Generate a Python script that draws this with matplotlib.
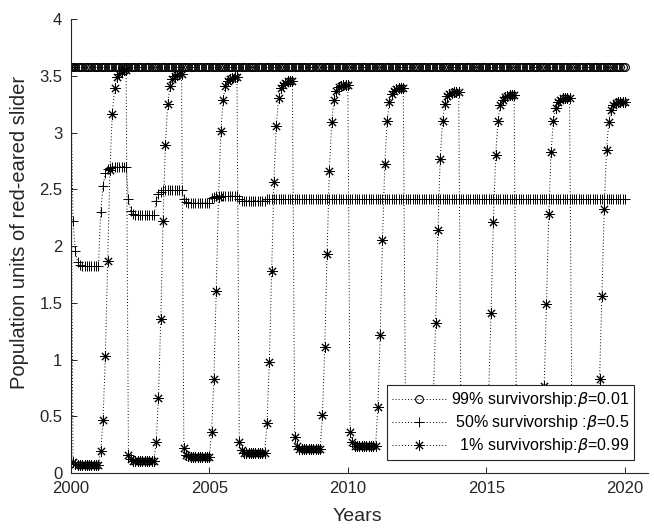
import numpy as np
import matplotlib
matplotlib.use("Agg")
import matplotlib.pyplot as plt

plt.rcParams['font.family'] = ['Liberation Sans', 'DejaVu Sans']

# monthly time grid, 2000 .. 2020
years = 2000 + np.arange(241) / 12.0
start_value = 3.58

# beta = 0.01 (99% survivorship) stays flat
pop_99 = [3.58] * 241

# beta = 0.5 (50% survivorship), one row per year (months 1..12)
pop_50_rows = [
    [2.22, 1.96, 1.86, 1.83, 1.82, 1.82, 1.82, 1.82, 1.82, 1.82, 1.82, 1.82],
    [2.30, 2.53, 2.64, 2.68, 2.69, 2.70, 2.70, 2.70, 2.70, 2.70, 2.70, 2.70],
    [2.41, 2.31, 2.28, 2.27, 2.27, 2.27, 2.27, 2.27, 2.27, 2.27, 2.27, 2.27],
    [2.40, 2.46, 2.48, 2.49, 2.49, 2.49, 2.49, 2.49, 2.49, 2.49, 2.49, 2.49],
    [2.41, 2.39, 2.38, 2.38, 2.38, 2.38, 2.38, 2.38, 2.38, 2.38, 2.38, 2.38],
    [2.42, 2.43, 2.44, 2.44, 2.44, 2.44, 2.44, 2.44, 2.44, 2.44, 2.44, 2.44],
    [2.41, 2.40, 2.40, 2.40, 2.40, 2.40, 2.40, 2.40, 2.40, 2.40, 2.40, 2.40],
    [2.41, 2.41, 2.41, 2.41, 2.41, 2.41, 2.41, 2.41, 2.41, 2.41, 2.41, 2.41],
    [2.41, 2.41, 2.41, 2.41, 2.41, 2.41, 2.41, 2.41, 2.41, 2.41, 2.41, 2.41],
    [2.41, 2.41, 2.41, 2.41, 2.41, 2.41, 2.41, 2.41, 2.41, 2.41, 2.41, 2.41],
    [2.41, 2.41, 2.41, 2.41, 2.41, 2.41, 2.41, 2.41, 2.41, 2.41, 2.41, 2.41],
    [2.41, 2.41, 2.41, 2.41, 2.41, 2.41, 2.41, 2.41, 2.41, 2.41, 2.41, 2.41],
    [2.41, 2.41, 2.41, 2.41, 2.41, 2.41, 2.41, 2.41, 2.41, 2.41, 2.41, 2.41],
    [2.41, 2.41, 2.41, 2.41, 2.41, 2.41, 2.41, 2.41, 2.41, 2.41, 2.41, 2.41],
    [2.41, 2.41, 2.41, 2.41, 2.41, 2.41, 2.41, 2.41, 2.41, 2.41, 2.41, 2.41],
    [2.41, 2.41, 2.41, 2.41, 2.41, 2.41, 2.41, 2.41, 2.41, 2.41, 2.41, 2.41],
    [2.41, 2.41, 2.41, 2.41, 2.41, 2.41, 2.41, 2.41, 2.41, 2.41, 2.41, 2.41],
    [2.41, 2.41, 2.41, 2.41, 2.41, 2.41, 2.41, 2.41, 2.41, 2.41, 2.41, 2.41],
    [2.41, 2.41, 2.41, 2.41, 2.41, 2.41, 2.41, 2.41, 2.41, 2.41, 2.41, 2.41],
    [2.41, 2.41, 2.41, 2.41, 2.41, 2.41, 2.41, 2.41, 2.41, 2.41, 2.41, 2.41],
]

# beta = 0.99 (1% survivorship), one row per year (months 1..12)
pop_1_rows = [
    [0.10, 0.08, 0.07, 0.07, 0.07, 0.07, 0.07, 0.07, 0.07, 0.07, 0.07, 0.07],
    [0.19, 0.47, 1.03, 1.87, 2.67, 3.16, 3.39, 3.49, 3.52, 3.54, 3.55, 3.55],
    [0.16, 0.12, 0.11, 0.11, 0.11, 0.11, 0.11, 0.11, 0.11, 0.11, 0.11, 0.11],
    [0.27, 0.66, 1.36, 2.22, 2.89, 3.25, 3.41, 3.47, 3.50, 3.51, 3.52, 3.52],
    [0.22, 0.16, 0.15, 0.14, 0.14, 0.14, 0.14, 0.14, 0.14, 0.14, 0.14, 0.14],
    [0.36, 0.83, 1.60, 2.43, 3.01, 3.29, 3.41, 3.45, 3.47, 3.48, 3.49, 3.49],
    [0.27, 0.20, 0.18, 0.18, 0.18, 0.18, 0.18, 0.18, 0.18, 0.18, 0.18, 0.18],
    [0.44, 0.98, 1.78, 2.56, 3.06, 3.30, 3.39, 3.42, 3.44, 3.45, 3.45, 3.45],
    [0.32, 0.24, 0.21, 0.21, 0.21, 0.21, 0.21, 0.21, 0.21, 0.21, 0.21, 0.21],
    [0.51, 1.11, 1.93, 2.66, 3.09, 3.29, 3.37, 3.40, 3.41, 3.42, 3.42, 3.42],
    [0.36, 0.27, 0.24, 0.24, 0.24, 0.24, 0.24, 0.24, 0.24, 0.24, 0.24, 0.24],
    [0.58, 1.22, 2.05, 2.72, 3.10, 3.27, 3.34, 3.37, 3.38, 3.39, 3.39, 3.39],
    [0.40, 0.30, 0.27, 0.27, 0.27, 0.27, 0.27, 0.27, 0.27, 0.27, 0.27, 0.27],
    [0.65, 1.32, 2.14, 2.77, 3.10, 3.25, 3.32, 3.34, 3.35, 3.36, 3.36, 3.36],
    [0.44, 0.33, 0.30, 0.30, 0.30, 0.30, 0.30, 0.30, 0.30, 0.30, 0.30, 0.30],
    [0.71, 1.41, 2.21, 2.80, 3.10, 3.24, 3.29, 3.31, 3.32, 3.33, 3.33, 3.33],
    [0.48, 0.36, 0.33, 0.33, 0.33, 0.33, 0.33, 0.33, 0.33, 0.33, 0.33, 0.33],
    [0.77, 1.49, 2.28, 2.83, 3.10, 3.22, 3.27, 3.29, 3.30, 3.30, 3.30, 3.30],
    [0.51, 0.39, 0.36, 0.36, 0.36, 0.36, 0.36, 0.36, 0.36, 0.36, 0.36, 0.36],
    [0.83, 1.56, 2.33, 2.85, 3.09, 3.20, 3.24, 3.26, 3.27, 3.27, 3.27, 3.27],
]

labels = ['99% survivorship:$\\beta$=0.01',
          ' 50% survivorship :$\\beta$=0.5',
          '  1% survivorship:$\\beta$=0.99']

pop_50 = [start_value] + [v for row in pop_50_rows for v in row]
pop_1 = [start_value] + [v for row in pop_1_rows for v in row]

fig = plt.figure(figsize=(6.54, 5.30), dpi=100)
ax = fig.add_axes([0.1081, 0.1075, 0.8827, 0.8566])

dot = (0, (1, 2.2))
ax.plot(years, pop_99, color='k', ls=dot, lw=0.7, marker='o', ms=5.6,
        mfc='none', mec='k', mew=0.8, label=labels[0])
ax.plot(years, pop_50, color='k', ls=dot, lw=0.7, marker='+', ms=7,
        mec='k', mew=0.7, label=labels[1])
ax.plot(years, pop_1, color='k', ls=dot, lw=0.7, marker=(8, 2, 0), ms=7.3,
        mec='k', mew=0.7, label=labels[2])

ax.set_xlim(2000, 2020.83)
ax.set_ylim(0, 4)
ax.set_xticks([2000, 2005, 2010, 2015, 2020])
ax.set_yticks([0, 0.5, 1, 1.5, 2, 2.5, 3, 3.5, 4])
ax.set_yticklabels(['0', '0.5', '1', '1.5', '2', '2.5', '3', '3.5', '4'])

axis_col = '#262626'
for side in ['top', 'right']:
    ax.spines[side].set_visible(False)
for side in ['left', 'bottom']:
    ax.spines[side].set_color(axis_col)
    ax.spines[side].set_linewidth(0.8)
ax.tick_params(axis='both', direction='in', length=4, width=0.7,
               colors=axis_col, labelsize=12)
ax.tick_params(axis='x', pad=5.5)
ax.tick_params(axis='y', pad=6)

ax.set_xlabel('Years', fontsize=14, color=axis_col)
ax.set_ylabel('Population units of red-eared slider', fontsize=14.5, color=axis_col)
ax.xaxis.set_label_coords(0.497, -0.076)
ax.yaxis.set_label_coords(-0.072, 0.531)

leg = ax.legend(loc='lower right', bbox_to_anchor=(0.976, 0.0286),
                borderaxespad=0, fontsize=11.5, frameon=True, fancybox=False,
                handlelength=3.4, handletextpad=0.3, borderpad=0.3,
                labelspacing=0.25)
leg.get_frame().set_edgecolor(axis_col)
leg.get_frame().set_linewidth(0.8)
leg.get_frame().set_alpha(1)

fig.savefig('out.png', dpi=100)
